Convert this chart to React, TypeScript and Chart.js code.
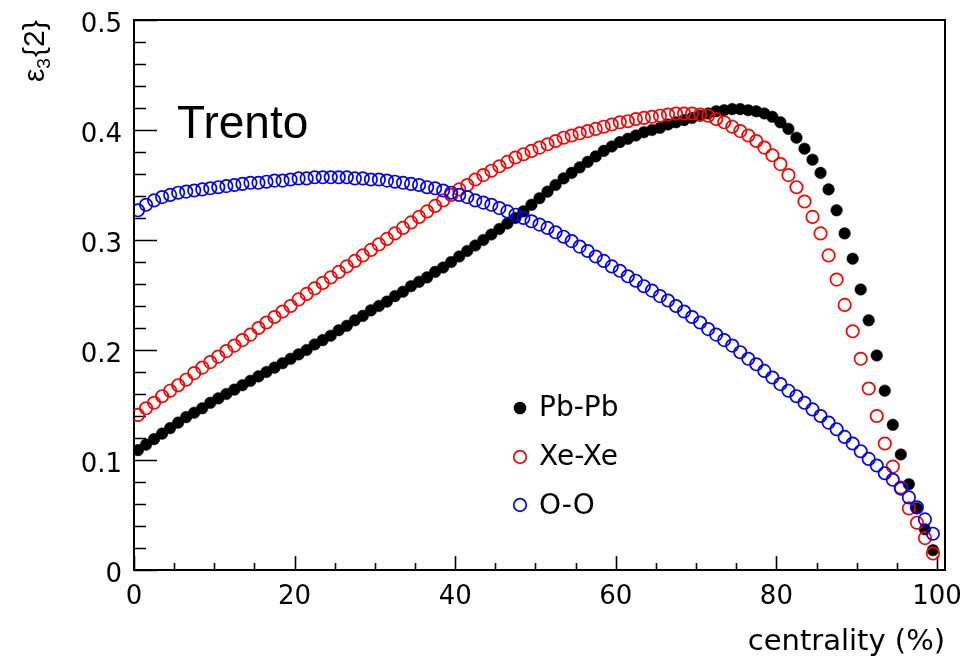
import { useEffect, useRef } from "react";
import { Chart, registerables } from "chart.js";

Chart.register(...registerables);

// Centrality classes 0-1%, 1-2%, ... 99-100%, plotted at the class centre
const CENTRALITY = Array.from({ length: 100 }, (_, i) => i + 0.5);

// ε3{2} per centrality class
const PBPB = [
  0.109, 0.114, 0.119, 0.124, 0.129, 0.134, 0.139, 0.143, 0.147, 0.152,
  0.156, 0.160, 0.164, 0.168, 0.172, 0.176, 0.180, 0.184, 0.188, 0.192,
  0.196, 0.200, 0.205, 0.209, 0.213, 0.218, 0.222, 0.227, 0.231, 0.236,
  0.240, 0.244, 0.249, 0.253, 0.258, 0.262, 0.266, 0.271, 0.275, 0.280,
  0.285, 0.290, 0.295, 0.300, 0.305, 0.310, 0.315, 0.320, 0.326, 0.332,
  0.338, 0.344, 0.350, 0.356, 0.361, 0.366, 0.371, 0.376, 0.381, 0.385,
  0.389, 0.392, 0.395, 0.398, 0.400, 0.402, 0.405, 0.407, 0.409, 0.411,
  0.413, 0.415, 0.417, 0.418, 0.419, 0.419, 0.418, 0.417, 0.415, 0.412,
  0.407, 0.401, 0.393, 0.383, 0.373, 0.361, 0.346, 0.327, 0.306, 0.283,
  0.255, 0.227, 0.195, 0.163, 0.132, 0.105, 0.078, 0.056, 0.037, 0.018,
];

const XEXE = [
  0.141, 0.147, 0.152, 0.158, 0.163, 0.168, 0.173, 0.179, 0.184, 0.189,
  0.194, 0.199, 0.204, 0.209, 0.214, 0.220, 0.225, 0.230, 0.235, 0.240,
  0.246, 0.251, 0.256, 0.261, 0.266, 0.271, 0.276, 0.281, 0.286, 0.291,
  0.296, 0.301, 0.306, 0.311, 0.316, 0.321, 0.326, 0.331, 0.336, 0.341,
  0.346, 0.350, 0.355, 0.359, 0.363, 0.367, 0.371, 0.375, 0.378, 0.381,
  0.384, 0.387, 0.390, 0.393, 0.395, 0.397, 0.399, 0.401, 0.403, 0.405,
  0.407, 0.408, 0.410, 0.411, 0.412, 0.413, 0.414, 0.415, 0.415, 0.415,
  0.414, 0.413, 0.410, 0.407, 0.403, 0.399, 0.395, 0.390, 0.384, 0.377,
  0.369, 0.359, 0.348, 0.335, 0.321, 0.306, 0.286, 0.264, 0.241, 0.217,
  0.192, 0.165, 0.140, 0.115, 0.094, 0.075, 0.056, 0.043, 0.029, 0.015,
];

const OO = [
  0.327, 0.332, 0.336, 0.339, 0.341, 0.343, 0.344, 0.345, 0.346, 0.347,
  0.348, 0.349, 0.350, 0.351, 0.352, 0.352, 0.353, 0.354, 0.354, 0.355,
  0.356, 0.356, 0.357, 0.357, 0.357, 0.357, 0.357, 0.356, 0.356, 0.355,
  0.355, 0.354, 0.353, 0.352, 0.351, 0.350, 0.348, 0.347, 0.345, 0.343,
  0.341, 0.339, 0.336, 0.334, 0.332, 0.329, 0.326, 0.323, 0.320, 0.317,
  0.314, 0.311, 0.307, 0.303, 0.299, 0.294, 0.290, 0.285, 0.281, 0.276,
  0.272, 0.267, 0.263, 0.258, 0.254, 0.249, 0.245, 0.240, 0.235, 0.230,
  0.225, 0.219, 0.214, 0.209, 0.204, 0.198, 0.192, 0.187, 0.181, 0.175,
  0.169, 0.163, 0.158, 0.152, 0.146, 0.140, 0.134, 0.128, 0.121, 0.115,
  0.108, 0.101, 0.095, 0.088, 0.082, 0.074, 0.066, 0.057, 0.046, 0.033,
];

const SERIES_LABELS = ["Pb-Pb", "Xe-Xe", "O-O"];
const SERIES_COLORS = ["#000000", "#ff0000", "#0000ff"];

const X_TICKS = [0, 20, 40, 60, 80, 100];
const X_MINOR_STEP = 5;
const Y_TICKS = [0, 0.1, 0.2, 0.3, 0.4, 0.5];
const Y_TICK_LABELS = ["0", "0.1", "0.2", "0.3", "0.4", "0.5"];
const Y_MINOR_STEP = 0.02;

const LABEL_FONT = '26px "DejaVu Sans"';
const FILLED_RADIUS = 5.8;
const OPEN_RADIUS = 6.2;
const OPEN_STROKE = 1.7;

// Frame, inward ticks, tick labels, titles and legend in the ROOT canvas style
const rootFrame = {
  id: "rootFrame",
  beforeDatasetsDraw(chart: any) {
    const { ctx, chartArea: a, scales } = chart;
    const xs = scales.x;
    const ys = scales.y;
    ctx.save();
    ctx.strokeStyle = "#000";
    ctx.lineWidth = 2;
    ctx.strokeRect(a.left, a.top, a.right - a.left, a.bottom - a.top);

    ctx.lineWidth = 1.6;
    ctx.beginPath();
    const yMax = Y_TICKS[Y_TICKS.length - 1];
    const nY = Math.round(yMax / Y_MINOR_STEP);
    for (let k = 0; k <= nY; k++) {
      const py = Math.round(ys.getPixelForValue(k * Y_MINOR_STEP)) + 0.5;
      const len = k % 5 === 0 ? 23 : 12;
      ctx.moveTo(a.left, py);
      ctx.lineTo(a.left + len, py);
    }
    const xMax = X_TICKS[X_TICKS.length - 1];
    const nX = Math.round(xMax / X_MINOR_STEP);
    for (let k = 0; k <= nX; k++) {
      const px = Math.round(xs.getPixelForValue(k * X_MINOR_STEP)) + 0.5;
      const len = k % 4 === 0 ? 14 : 7;
      ctx.moveTo(px, a.bottom);
      ctx.lineTo(px, a.bottom - len);
    }
    ctx.stroke();

    ctx.fillStyle = "#000";
    ctx.font = LABEL_FONT;
    ctx.textBaseline = "alphabetic";
    ctx.textAlign = "right";
    Y_TICKS.forEach((v, i) => {
      ctx.fillText(Y_TICK_LABELS[i], a.left - 12, ys.getPixelForValue(v) + 11.5);
    });
    ctx.textAlign = "center";
    X_TICKS.forEach((v) => {
      ctx.fillText(String(v), xs.getPixelForValue(v), a.bottom + 34);
    });

    // x-axis title
    ctx.font = '29px "DejaVu Sans"';
    ctx.textAlign = "right";
    ctx.fillText("centrality (%)", a.right, a.bottom + 80);

    // y-axis title ε3{2}, rotated
    ctx.save();
    ctx.translate(44, 82);
    ctx.rotate(-Math.PI / 2);
    ctx.textAlign = "left";
    ctx.font = '30px "Liberation Sans"';
    ctx.fillText("ε", 0, 0);
    const wEps = ctx.measureText("ε").width;
    ctx.font = '19px "Liberation Sans"';
    ctx.fillText("3", wEps, 6);
    const w3 = ctx.measureText("3").width;
    ctx.font = '30px "Liberation Sans"';
    ctx.fillText("{2}", wEps + w3 + 1, 0);
    ctx.restore();

    // label inside the frame
    ctx.font = '46px "Liberation Sans"';
    ctx.textAlign = "left";
    ctx.fillText("Trento", 177, 138);
    ctx.restore();
  },
  afterDatasetsDraw(chart: any) {
    const { ctx } = chart;
    const rows = [
      { mx: 520, my: 408, ty: 416 },
      { mx: 520, my: 457, ty: 465 },
      { mx: 520, my: 505, ty: 514 },
    ];
    ctx.save();
    ctx.font = '28px "DejaVu Sans"';
    ctx.textAlign = "left";
    ctx.textBaseline = "alphabetic";
    rows.forEach((r, i) => {
      ctx.beginPath();
      if (i === 0) {
        ctx.arc(r.mx, r.my, 6.3, 0, Math.PI * 2);
        ctx.fillStyle = SERIES_COLORS[i];
        ctx.fill();
      } else {
        ctx.arc(r.mx, r.my, 6.3, 0, Math.PI * 2);
        ctx.strokeStyle = SERIES_COLORS[i];
        ctx.lineWidth = OPEN_STROKE;
        ctx.stroke();
      }
      ctx.fillStyle = "#000";
      ctx.fillText(SERIES_LABELS[i], 539, r.ty);
    });
    ctx.restore();
  },
};

function points(values: number[]) {
  return CENTRALITY.map((c, i) => ({ x: c, y: values[i] }));
}

export default function App() {
  const ref = useRef<HTMLCanvasElement>(null);

  useEffect(() => {
    if (!ref.current) return;
    const chart = new Chart(ref.current, {
      type: "scatter",
      data: {
        datasets: [
          {
            label: SERIES_LABELS[0],
            data: points(PBPB),
            pointRadius: FILLED_RADIUS,
            pointHoverRadius: FILLED_RADIUS,
            pointBackgroundColor: SERIES_COLORS[0],
            pointBorderColor: SERIES_COLORS[0],
            pointBorderWidth: 0.5,
            order: 3,
          },
          {
            label: SERIES_LABELS[1],
            data: points(XEXE),
            pointRadius: OPEN_RADIUS,
            pointHoverRadius: OPEN_RADIUS,
            pointBackgroundColor: "rgba(0,0,0,0)",
            pointBorderColor: SERIES_COLORS[1],
            pointBorderWidth: OPEN_STROKE,
            order: 2,
          },
          {
            label: SERIES_LABELS[2],
            data: points(OO),
            pointRadius: OPEN_RADIUS,
            pointHoverRadius: OPEN_RADIUS,
            pointBackgroundColor: "rgba(0,0,0,0)",
            pointBorderColor: SERIES_COLORS[2],
            pointBorderWidth: OPEN_STROKE,
            order: 1,
          },
        ],
      },
      options: {
        responsive: false,
        animation: false,
        events: [],
        layout: { padding: { left: 134, right: 35, top: 20, bottom: 91 } },
        scales: {
          x: { type: "linear", min: 0, max: 101, display: false },
          y: { type: "linear", min: 0, max: 0.5, display: false },
        },
        plugins: {
          legend: { display: false },
          tooltip: { enabled: false },
        },
      },
      plugins: [rootFrame],
    });
    return () => chart.destroy();
  }, []);

  return (
    <div
      style={{
        position: "fixed",
        left: 0,
        top: 0,
        width: 980,
        height: 661,
        background: "#ffffff",
      }}
    >
      <canvas ref={ref} width={980} height={661} style={{ display: "block" }} />
    </div>
  );
}
